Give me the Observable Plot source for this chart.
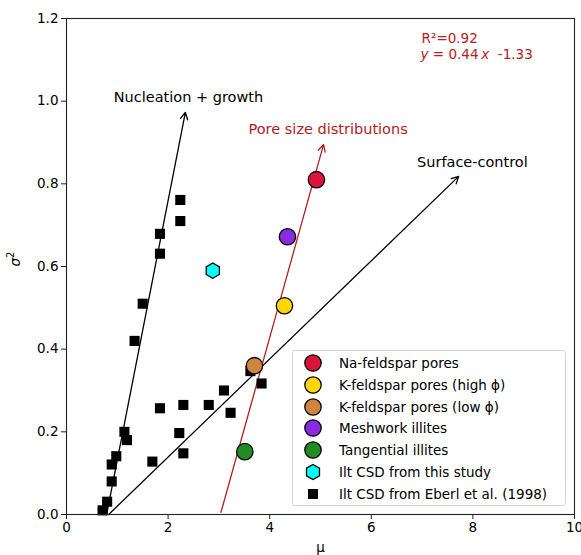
<!DOCTYPE html>
<html><head><meta charset="utf-8">
<script src="https://cdn.jsdelivr.net/npm/d3@7"></script>
<script src="https://cdn.jsdelivr.net/npm/@observablehq/plot@0.6"></script>
<style>
body{margin:0;background:#fff;}
#wrap{position:relative;width:581px;height:555px;font-family:"DejaVu Sans",sans-serif;}
#legend{position:absolute;left:292px;top:350px;width:274px;height:156px;border:1px solid #d4d4d4;border-radius:3px;background:rgba(255,255,255,0.85);box-sizing:border-box;}
.row{position:absolute;left:0;width:270px;height:22px;font-size:13.5px;color:#000;}
.row svg{position:absolute;left:8px;top:0;}
.row span{position:absolute;left:46px;top:3px;white-space:nowrap;line-height:16px;}
</style></head>
<body><div id="wrap"></div>
<script>
// ---- data ----
const xTicks = [0, 2, 4, 6, 8, 10];
const yTicks = [0, 0.2, 0.4, 0.6, 0.8, 1.0, 1.2];

const seriesNames = ["Na-feldspar pores", "K-feldspar pores (high ϕ)", "K-feldspar pores (low ϕ)", "Meshwork illites", "Tangential illites", "Ilt CSD from this study"];
const seriesMu = [4.92, 4.29, 3.70, 4.35, 3.51, 2.88];
const seriesSigma2 = [0.81, 0.505, 0.36, 0.672, 0.152, 0.59];
const seriesColors = ["#dc143c", "#ffd700", "#cd853f", "#8a2be2", "#228b22", "#00ffff"];

const eberlName = "Ilt CSD from Eberl et al. (1998)";
const eberlMu = [0.71, 0.80, 0.89, 0.89, 0.98, 1.14, 1.19, 1.34, 1.50, 1.84, 1.84, 2.24, 2.24, 1.69, 1.84, 2.22, 2.30, 2.30, 2.80, 3.10, 3.23, 3.62, 3.84];
const eberlSigma2 = [0.01, 0.031, 0.08, 0.121, 0.141, 0.20, 0.18, 0.42, 0.51, 0.679, 0.631, 0.761, 0.71, 0.128, 0.257, 0.197, 0.265, 0.148, 0.265, 0.30, 0.246, 0.347, 0.317];

const arrowNames = ["Nucleation + growth", "Surface-control", "Pore size distributions"];
const arrowMu1 = [0.79, 0.83, 3.04];
const arrowS1 = [0, 0, 0.005];
const arrowMu2 = [2.34, 7.72, 5.06];
const arrowS2 = [0.973, 0.818, 0.895];
const arrowColors = ["#000000", "#000000", "#b22222"];
const labelMu = [2.40, 7.99, 5.15];
const labelS = [1.010, 0.852, 0.932];

const fitLines = ["R²=0.92", "y = 0.44x -1.33"];
const fitMu = [6.99, 6.97];
const fitS = [1.152, 1.113];

// ---- build tables ----
const series = seriesNames.map((n, i) => ({name: n, mu: seriesMu[i], s: seriesSigma2[i]}));
const circles = series.filter(d => d.name !== "Ilt CSD from this study");
const hexes = series.filter(d => d.name === "Ilt CSD from this study");
const eberl = eberlMu.map((m, i) => ({mu: m, s: eberlSigma2[i]}));
const arrows = arrowNames.map((n, i) => ({name: n, x1: arrowMu1[i], y1: arrowS1[i], x2: arrowMu2[i], y2: arrowS2[i], lx: labelMu[i], ly: labelS[i]}));
const fits = fitLines.map((t, i) => ({t, mu: fitMu[i], s: fitS[i]}));

const colorScale = {domain: seriesNames, range: seriesColors};

const chart = Plot.plot({
  width: 581, height: 555,
  marginLeft: 66, marginRight: 7, marginTop: 18, marginBottom: 41,
  style: {fontFamily: "DejaVu Sans, sans-serif", fontSize: "13.5px", color: "#000", background: "#fff"},
  x: {domain: [0, 10], label: null},
  y: {domain: [0, 1.2], label: null},
  color: colorScale,
  marks: [
    Plot.axisX({ticks: xTicks, tickSize: 5, tickPadding: 3, label: null, tickFormat: d3.format("d"), stroke: "#222"}),
    Plot.axisY({ticks: yTicks, tickSize: 5, tickPadding: 3, label: null, tickFormat: d3.format(".1f"), stroke: "#222"}),
    Plot.arrow(arrows, {x1: "x1", y1: "y1", x2: "x2", y2: "y2", stroke: (d) => arrowColors[arrowNames.indexOf(d.name)], strokeWidth: 1.3, headLength: 9, headAngle: 55}),
    Plot.text(arrows, {x: "lx", y: "ly", text: "name", fill: (d) => arrowColors[arrowNames.indexOf(d.name)], textAnchor: "middle", lineAnchor: "middle", fontSize: 14.5}),
    Plot.dot(eberl, {x: "mu", y: "s", symbol: "square", r: 5.7, fill: "#000", stroke: "none"}),
    Plot.dot(circles, {x: "mu", y: "s", r: 8.2, fill: "name", stroke: "#000", strokeWidth: 1.3}),
    Plot.dot(hexes, {x: "mu", y: "s", symbol: "hexagon", r: 6.6, fill: "name", stroke: "#000", strokeWidth: 1.3}),
    Plot.text(fits, {x: "mu", y: "s", text: "t", fill: "#b22222", textAnchor: "start", lineAnchor: "middle", fontSize: 13.5, className: "fit"}),
    Plot.text(["σ²"], {frameAnchor: "left", dx: -51, rotate: -90, className: "ylab", fill: "#000", fontSize: 13.5}),
    Plot.text(["μ"], {frameAnchor: "bottom", dy: 37, fill: "#000", fontSize: 13.5}),
    Plot.frame({stroke: "#222", strokeWidth: 1.1})
  ]
});
document.getElementById("wrap").appendChild(chart);

// italic math parts
const svg = d3.select(chart);
svg.selectAll("g.fit text").each(function() {
  const el = d3.select(this);
  if (el.text().startsWith("y")) {
    el.text("");
    el.append("tspan").attr("font-style", "italic").text("y");
    el.append("tspan").text(" = 0.44\u2009");
    el.append("tspan").attr("font-style", "italic").text("x");
    el.append("tspan").text("  -1.33");
  }
});
svg.selectAll("g.ylab text").each(function() {
  const el = d3.select(this);
  el.text("");
  el.append("tspan").attr("font-style", "italic").text("σ");
  el.append("tspan").attr("dy", "-6").attr("font-size", "10px").text("2");
});

// legend
const legend = document.createElement("div");
legend.id = "legend";
const legendItems = seriesNames.map((n, i) => ({name: n, kind: n === "Ilt CSD from this study" ? "hex" : "circle", color: seriesColors[i]}))
  .concat([{name: eberlName, kind: "square", color: "#000"}]);
legendItems.forEach((it, i) => {
  const row = document.createElement("div");
  row.className = "row";
  row.style.top = (1 + i * 21.8) + "px";
  let shape;
  if (it.kind === "circle") shape = `<circle cx="12" cy="11" r="8.2" fill="${it.color}" stroke="#000" stroke-width="1.3"/>`;
  else if (it.kind === "hex") {
    const pts = d3.range(6).map(k => { const a = Math.PI / 3 * k - Math.PI / 2; return [12 + 7.5 * Math.cos(a), 11 + 7.5 * Math.sin(a)].join(","); }).join(" ");
    shape = `<polygon points="${pts}" fill="${it.color}" stroke="#000" stroke-width="1.3"/>`;
  } else shape = `<rect x="7" y="6" width="10" height="10" fill="#000"/>`;
  row.innerHTML = `<svg width="24" height="22">${shape}</svg><span>${it.name}</span>`;
  legend.appendChild(row);
});
document.getElementById("wrap").appendChild(legend);
</script>
</body></html>
